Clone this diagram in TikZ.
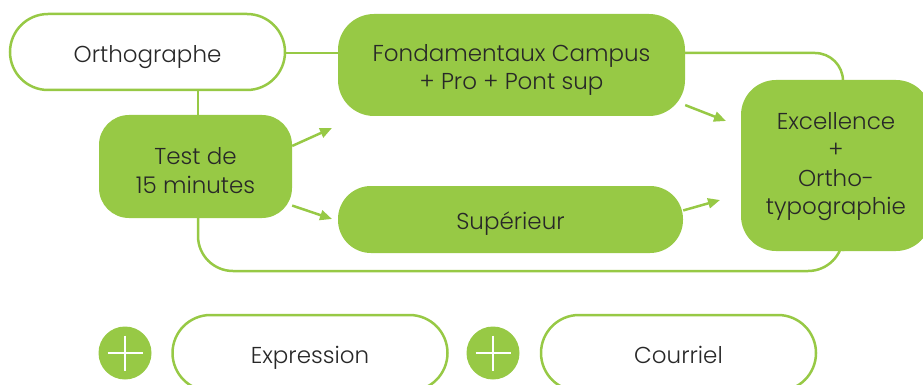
\documentclass[tikz,border=0pt]{standalone}
\usepackage{fontspec}
\setmainfont{Poppins}[UprightFont=* Light]
\usetikzlibrary{arrows.meta}
\definecolor{leaf}{RGB}{151,201,69}
\definecolor{ink}{RGB}{40,40,40}

\begin{document}
\begin{tikzpicture}[x=1pt,y=-1pt,
  every node/.style={inner sep=0pt},
  words/.style={font=\fontsize{23}{28.5}\selectfont,text=ink,align=center},
  greenbox/.style={fill=leaf,rounded corners=#1},
  whitepill/.style={draw=leaf,line width=2.5pt,fill=white,rounded corners=38pt,minimum width=275pt,minimum height=76pt},
  link/.style={draw=leaf,line width=2.5pt},
  pointer/.style={draw=leaf,line width=2.5pt,-{Triangle[length=12pt,width=10pt]}},
  plus/.style={circle,fill=leaf,minimum size=53pt}]
\useasboundingbox (0,0) rectangle (923,385);
% boxes
\node [whitepill] (orth) at (147.5,52) {};
\node [greenbox=36pt,minimum width=347pt,minimum height=102pt] (fond) at (511.5,65) {};
\node [greenbox=30pt,minimum width=193pt,minimum height=103pt] (test) at (195.5,166.5) {};
\node [greenbox=33pt,minimum width=345pt,minimum height=67pt] (sup) at (510.5,219.5) {};
\node [greenbox=35pt,minimum width=190pt,minimum height=171pt] (exc) at (836,165.5) {};
% bottom row
\node [plus] (plus1) at (125,353) {};
\node [whitepill] (expr) at (310,353) {};
\node [plus] (plus2) at (493,353) {};
\node [whitepill] (cour) at (678.5,353) {};
\foreach \p in {plus1,plus2}
  \draw [white,line width=2pt] (\p.center) +(-17.5,0) -- +(17.5,0) (\p.center) +(0,-17.5) -- +(0,17.5);
% texts
\node [words] (orth-t) at ([yshift=-5pt]orth) {Orthographe};
\node [words] (fond-t) at ([yshift=-5pt]fond) {Fondamentaux Campus\\+ Pro + Pont sup};
\node [words] (test-t) at ([yshift=-4pt]test) {Test de\\15 minutes};
\node [words] (sup-t) at ([yshift=-4pt]sup) {Supérieur};
\node [words] (exc-t) at ([yshift=-1pt]exc) {Excellence\\+\\Ortho-\\typographie};
\node [words] (expr-t) at ([yshift=-5pt]expr) {Expression};
\node [words] (cour-t) at ([yshift=-2pt]cour) {Courriel};
% lines
\coordinate (stem) at (198,0);
\coordinate (high) at (843,53);
\coordinate (low) at (843,271);
\draw [link] (orth.east |- high) -- (orth.east |- high -| fond.west);
\draw [link] (stem |- orth.south) -- (stem |- test.north);
\draw [link,rounded corners=28pt] (fond.east |- high) -- (high) -- (high |- exc.north);
\draw [link,rounded corners=35pt] (stem |- test.south) |- (low) -- (low |- exc.south);
% arrows
\coordinate (t1) at (332,128);
\coordinate (t2) at (332,219);
\coordinate (f1) at (726,121);
\coordinate (s1) at (720,200);
\draw [pointer] (test.12.6) -- (t1);
\draw [pointer] (test.-22) -- (t2);
\draw [pointer] (fond.-13) -- (f1);
\draw [pointer] (sup.3) -- (s1);
\end{tikzpicture}
\end{document}
